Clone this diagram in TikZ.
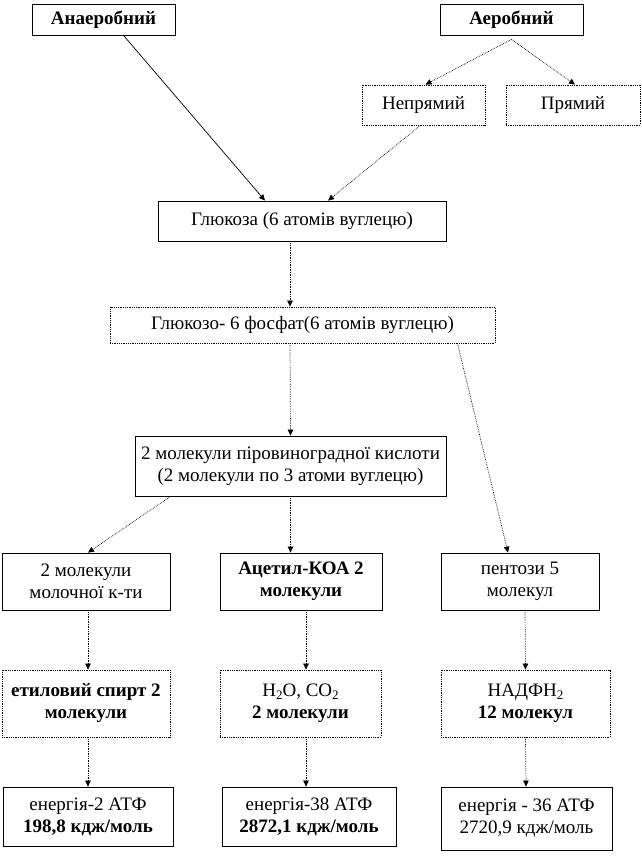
\documentclass[tikz,border=0pt]{standalone}
\usepackage{fontspec}
\setmainfont{Liberation Serif}
\usetikzlibrary{arrows.meta,calc}
\newcommand{\gsub}[1]{\raisebox{-0.35ex}{\fontsize{13}{13}\selectfont #1}}
\tikzset{
  gbox/.style={draw, line width=0.8pt, align=center, inner sep=2pt, font=\fontsize{19}{22}\selectfont},
  gbold/.style={gbox, font=\fontsize{19}{22}\selectfont\bfseries},
  gdot/.style={densely dotted},
  garr/.style={-{Triangle[length=6pt,width=5.5pt]}, line width=0.7pt},
  gdotarr/.style={garr, densely dotted}
}
\begin{document}
\begin{tikzpicture}[x=1pt,y=-1pt]
  \useasboundingbox (0,0) rectangle (642,859);
  % top
  \node[gbold,minimum width=143pt,minimum height=31pt] (anaer) at (103.5,19.5) {Анаеробний};
  \node[gbold,minimum width=143pt,minimum height=31pt] (aer) at (511.5,19.5) {Аеробний};
  \node[gbox,gdot,minimum width=123pt,minimum height=40pt] (indir) at (423.5,105) {Непрямий};
  \node[gbox,gdot,minimum width=134pt,minimum height=40pt] (dir) at (573,105) {Прямий};
  % middle
  \node[gbox,minimum width=288pt,minimum height=40pt] (gluc) at (302,221) {Глюкоза (6 атомів вуглецю)};
  \node[gbox,gdot,minimum width=385pt,minimum height=36pt] (gsix) at (302.5,325) {Глюкозо- 6 фосфат(6 атомів вуглецю)};
  \node[gbox,minimum width=311pt,minimum height=60pt] (pyr) at (290.5,466) {2 молекули піровиноградної кислоти\\(2 молекули по 3 атоми вуглецю)};
  % columns
  \node[gbox,minimum width=168pt,minimum height=57pt] (lact) at (86,581.5) {2 молекули\\молочної к-ти};
  \node[gbold,minimum width=162pt,minimum height=57pt] (acet) at (301,581.5) {Ацетил-КОА 2\\молекули};
  \node[gbox,minimum width=158pt,minimum height=57pt] (pent) at (520,581.5) {пентози 5\\молекул};
  \node[gbold,gdot,minimum width=168pt,minimum height=67pt] (eth) at (86,703.5) {етиловий спирт 2\\молекули};
  \node[gbox,gdot,minimum width=161pt,minimum height=67pt] (water) at (300.5,703.5) {H\gsub{2}O, CO\gsub{2}\\\textbf{2 молекули}};
  \node[gbox,gdot,minimum width=169pt,minimum height=67pt] (nadph) at (525.5,703.5) {НАДФН\gsub{2}\\\textbf{12 молекул}};
  \node[gbox,minimum width=170pt,minimum height=59pt] (etwo) at (88,816.5) {енергія-2 АТФ\\\textbf{198,8 кдж/моль}};
  \node[gbox,minimum width=174pt,minimum height=59pt] (ethirty) at (309,816.5) {енергія-38 АТФ\\\textbf{2872,1 кдж/моль}};
  \node[gbox,minimum width=171pt,minimum height=63pt] (esix) at (526.5,818.5) {енергія - 36 АТФ\\2720,9 кдж/моль};
  % arrows
  \draw[garr] ($(anaer.south)+(20,0)$) -- ($(gluc.north)+(-37,0)$);
  \draw[gdotarr] ($(aer.south)+(0,4)$) -- ($(indir.north)+(2,0)$);
  \draw[gdotarr] ($(aer.south)+(0,4)$) -- ($(dir.north)+(2,0)$);
  \draw[gdotarr] ($(indir.south)+(-3,0)$) -- ($(gluc.north)+(26,0)$);
  \draw[gdotarr] ($(gluc.south)+(-12,0)$) -- ($(gsix.north)+(-12.5,0)$);
  \draw[gdotarr] ($(gsix.south)+(-12.5,0)$) -- (pyr.north);
  \draw[gdotarr] ($(gsix.south)+(155,0)$) -- ($(pent.north)+(-12,0)$);
  \draw[gdotarr] ($(pyr.south)+(-120,0)$) -- ($(lact.north)+(2,0)$);
  \draw[gdotarr] (pyr.south) -- ($(acet.north)+(-10.5,0)$);
  \draw[gdotarr] ($(lact.south)+(2,0)$) -- ($(eth.north)+(2,0)$);
  \draw[gdotarr] ($(acet.south)+(5,0)$) -- ($(water.north)+(5.5,0)$);
  \draw[gdotarr] ($(pent.south)+(5,0)$) -- (nadph.north);
  \draw[gdotarr] ($(eth.south)+(2,0)$) -- (etwo.north);
  \draw[gdotarr] ($(water.south)+(5.5,0)$) -- ($(ethirty.north)+(-3,0)$);
  \draw[gdotarr] (nadph.south) -- ($(esix.north)+(-0.5,0)$);
\end{tikzpicture}
\end{document}
